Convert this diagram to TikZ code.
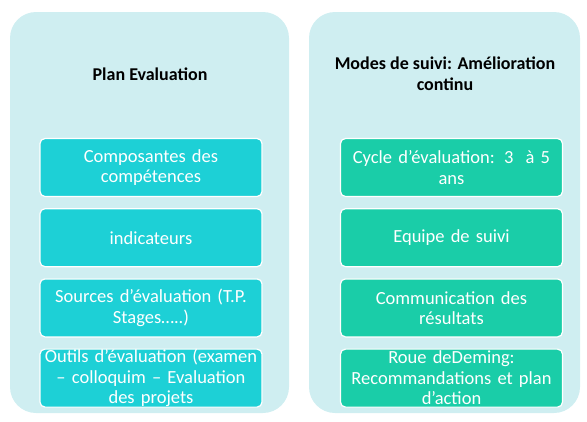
\documentclass[tikz,border=0pt]{standalone}
\usepackage{fontspec}
\setmainfont{Carlito}
\usepackage{xcolor}
\definecolor{panelBg}{HTML}{CFEEF1}
\definecolor{planFill}{HTML}{1DD0D6}
\definecolor{suiviFill}{HTML}{1ACDA8}
\usetikzlibrary{positioning}
\tikzset{%
  panelBox/.style={%
    rectangle,
    rounded corners=26pt,
    fill=panelBg,
    minimum height=401pt,
    inner sep=0pt
  },
  itemBox/.style={%
    rectangle,
    rounded corners=5pt,
    draw=white,
    line width=1.2pt,
    text=white,
    text width=222pt,
    minimum width=222pt,
    minimum height=58pt,
    inner sep=0pt,
    align=center,
    font=\fontsize{18.5}{20.5}\selectfont
  },
  titleText/.style={%
    text=black,
    align=center,
    font=\bfseries\fontsize{18}{21}\selectfont
  }
}

\begin{document}
\begin{tikzpicture}[x=1pt,y=1pt,node distance=11pt]
            \useasboundingbox (0,0) rectangle (587,-421);
            \node[panelBox, minimum width=279pt] (planPanel) at (149.5,-212.5) {};
            \node[panelBox, minimum width=271pt] (suiviPanel) at (444.5,-212.5) {};

            \node[titleText] (planTitle) at (150,-74) {Plan Evaluation};
            \node[titleText] (suiviTitle) at (445,-74) {Modes de suivi: Amélioration\\continu};

            \node[itemBox, fill=planFill] (composantes) at (151,-167.5) {Composantes des\\compétences};
            \node[itemBox, fill=planFill, below=of composantes] (indicateurs) {indicateurs};
            \node[itemBox, fill=planFill, below=of indicateurs] (sources) {Sources d’évaluation (T.P.\\Stages…..)};
            \node[itemBox, fill=planFill, below=of sources] (outils) {Outils d’évaluation (examen\\– colloquim – Evaluation\\des projets};

            \node[itemBox, fill=suiviFill] (cycle) at (451.5,-167.5) {Cycle d’évaluation: 3~ à 5\\ans};
            \node[itemBox, fill=suiviFill, below=of cycle] (equipe) {Equipe de suivi};
            \node[itemBox, fill=suiviFill, below=of equipe] (communication) {Communication des\\résultats};
            \node[itemBox, fill=suiviFill, below=of communication] (deming) {Roue deDeming:\\Recommandations et plan\\d’action};
        \end{tikzpicture}
\end{document}
